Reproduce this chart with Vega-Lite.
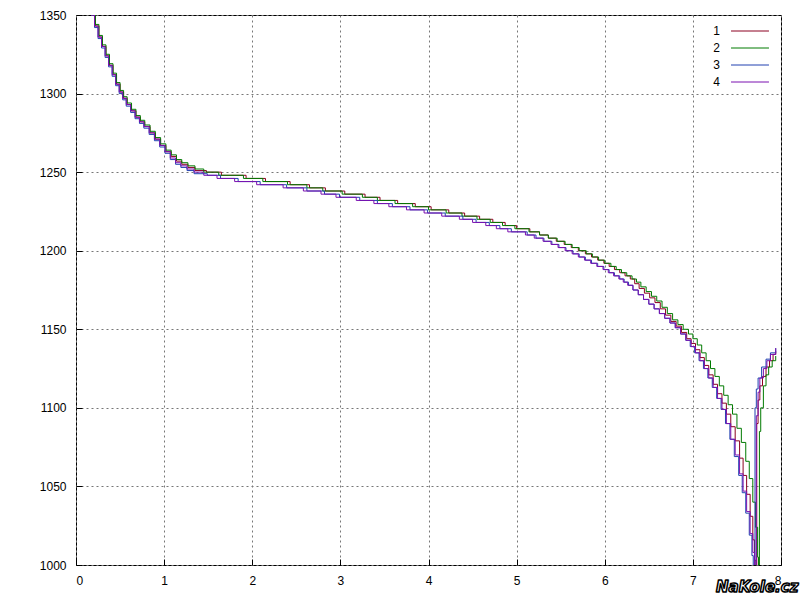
{
"$schema":"https://vega.github.io/schema/vega-lite/v6.json",
"width":705,"height":550,
"autosize":{"type":"none"},
"padding":{"left":76,"top":15,"right":19,"bottom":35},
"background":"white",
"config":{
"view":{"stroke":"black","strokeWidth":1},
"axis":{"grid":true,"gridColor":"#777777","gridDash":[2,3],"gridWidth":1,"domain":false,"tickColor":"black","tickSize":-6,"labelFont":"Liberation Sans","labelFontSize":12,"labelColor":"black","title":null}
},
"datasets":{"d":[
{"s":"1","x":0,"y":1384},{"s":"1","x":0.1,"y":1364},{"s":"1","x":0.18,"y":1350},{"s":"1","x":0.22,"y":1343},{"s":"1","x":0.26,"y":1336},{"s":"1","x":0.3,"y":1330},{"s":"1","x":0.34,"y":1324},{"s":"1","x":0.38,"y":1318},{"s":"1","x":0.42,"y":1312},{"s":"1","x":0.46,"y":1306},{"s":"1","x":0.5,"y":1301},{"s":"1","x":0.54,"y":1297},{"s":"1","x":0.58,"y":1293},{"s":"1","x":0.63,"y":1289},{"s":"1","x":0.68,"y":1285},{"s":"1","x":0.73,"y":1282},{"s":"1","x":0.78,"y":1279},{"s":"1","x":0.84,"y":1275},{"s":"1","x":0.9,"y":1271},{"s":"1","x":0.96,"y":1267},{"s":"1","x":1.02,"y":1263},{"s":"1","x":1.08,"y":1260},{"s":"1","x":1.14,"y":1257},{"s":"1","x":1.2,"y":1255},{"s":"1","x":1.27,"y":1253},{"s":"1","x":1.35,"y":1251},{"s":"1","x":1.48,"y":1250},{"s":"1","x":1.65,"y":1248},{"s":"1","x":1.93,"y":1246},{"s":"1","x":2.15,"y":1244},{"s":"1","x":2.43,"y":1242},{"s":"1","x":2.65,"y":1240},{"s":"1","x":2.83,"y":1238},{"s":"1","x":3.05,"y":1236},{"s":"1","x":3.28,"y":1234},{"s":"1","x":3.45,"y":1232},{"s":"1","x":3.65,"y":1230},{"s":"1","x":3.85,"y":1228},{"s":"1","x":4.03,"y":1226},{"s":"1","x":4.23,"y":1224},{"s":"1","x":4.41,"y":1222},{"s":"1","x":4.58,"y":1220},{"s":"1","x":4.73,"y":1218},{"s":"1","x":4.87,"y":1216},{"s":"1","x":5.0,"y":1214},{"s":"1","x":5.15,"y":1212},{"s":"1","x":5.26,"y":1210},{"s":"1","x":5.36,"y":1208},{"s":"1","x":5.45,"y":1206},{"s":"1","x":5.54,"y":1204},{"s":"1","x":5.62,"y":1202},{"s":"1","x":5.7,"y":1200},{"s":"1","x":5.78,"y":1198},{"s":"1","x":5.85,"y":1196},{"s":"1","x":5.92,"y":1194},{"s":"1","x":5.99,"y":1192},{"s":"1","x":6.05,"y":1190},{"s":"1","x":6.11,"y":1188},{"s":"1","x":6.17,"y":1186},{"s":"1","x":6.23,"y":1184},{"s":"1","x":6.29,"y":1182},{"s":"1","x":6.34,"y":1179},{"s":"1","x":6.39,"y":1176},{"s":"1","x":6.45,"y":1173},{"s":"1","x":6.51,"y":1170},{"s":"1","x":6.57,"y":1167},{"s":"1","x":6.63,"y":1163},{"s":"1","x":6.69,"y":1159},{"s":"1","x":6.75,"y":1155},{"s":"1","x":6.81,"y":1152},{"s":"1","x":6.87,"y":1148},{"s":"1","x":6.93,"y":1144},{"s":"1","x":6.98,"y":1141},{"s":"1","x":7.03,"y":1137},{"s":"1","x":7.08,"y":1132},{"s":"1","x":7.13,"y":1127},{"s":"1","x":7.18,"y":1121},{"s":"1","x":7.23,"y":1115},{"s":"1","x":7.28,"y":1109},{"s":"1","x":7.33,"y":1103},{"s":"1","x":7.38,"y":1096},{"s":"1","x":7.43,"y":1088},{"s":"1","x":7.48,"y":1079},{"s":"1","x":7.53,"y":1068},{"s":"1","x":7.57,"y":1057},{"s":"1","x":7.61,"y":1045},{"s":"1","x":7.65,"y":1031},{"s":"1","x":7.68,"y":1016},{"s":"1","x":7.7,"y":1003},{"s":"1","x":7.715,"y":955},{"s":"1","x":7.725,"y":1090},{"s":"1","x":7.74,"y":1105},{"s":"1","x":7.76,"y":1114},{"s":"1","x":7.79,"y":1120},{"s":"1","x":7.83,"y":1126},{"s":"1","x":7.87,"y":1130},{"s":"1","x":7.91,"y":1134},{"s":"1","x":7.94,"y":1136},
{"s":"2","x":0,"y":1385},{"s":"2","x":0.1,"y":1365},{"s":"2","x":0.18,"y":1351},{"s":"2","x":0.22,"y":1344},{"s":"2","x":0.26,"y":1337},{"s":"2","x":0.3,"y":1331},{"s":"2","x":0.34,"y":1325},{"s":"2","x":0.38,"y":1319},{"s":"2","x":0.42,"y":1313},{"s":"2","x":0.46,"y":1307},{"s":"2","x":0.5,"y":1302},{"s":"2","x":0.54,"y":1298},{"s":"2","x":0.58,"y":1294},{"s":"2","x":0.63,"y":1290},{"s":"2","x":0.68,"y":1286},{"s":"2","x":0.73,"y":1283},{"s":"2","x":0.78,"y":1280},{"s":"2","x":0.84,"y":1276},{"s":"2","x":0.9,"y":1272},{"s":"2","x":0.96,"y":1268},{"s":"2","x":1.02,"y":1264},{"s":"2","x":1.08,"y":1261},{"s":"2","x":1.14,"y":1258},{"s":"2","x":1.2,"y":1256},{"s":"2","x":1.27,"y":1254},{"s":"2","x":1.35,"y":1252},{"s":"2","x":1.45,"y":1250},{"s":"2","x":1.62,"y":1248},{"s":"2","x":1.9,"y":1246},{"s":"2","x":2.12,"y":1244},{"s":"2","x":2.4,"y":1242},{"s":"2","x":2.62,"y":1240},{"s":"2","x":2.8,"y":1238},{"s":"2","x":3.02,"y":1236},{"s":"2","x":3.25,"y":1234},{"s":"2","x":3.42,"y":1232},{"s":"2","x":3.62,"y":1230},{"s":"2","x":3.82,"y":1228},{"s":"2","x":4.0,"y":1226},{"s":"2","x":4.2,"y":1224},{"s":"2","x":4.38,"y":1222},{"s":"2","x":4.55,"y":1220},{"s":"2","x":4.7,"y":1218},{"s":"2","x":4.84,"y":1216},{"s":"2","x":4.98,"y":1214},{"s":"2","x":5.14,"y":1212},{"s":"2","x":5.26,"y":1210},{"s":"2","x":5.36,"y":1208},{"s":"2","x":5.46,"y":1206},{"s":"2","x":5.55,"y":1204},{"s":"2","x":5.63,"y":1202},{"s":"2","x":5.71,"y":1200},{"s":"2","x":5.79,"y":1198},{"s":"2","x":5.86,"y":1196},{"s":"2","x":5.93,"y":1194},{"s":"2","x":6.0,"y":1192},{"s":"2","x":6.07,"y":1190},{"s":"2","x":6.13,"y":1188},{"s":"2","x":6.19,"y":1186},{"s":"2","x":6.25,"y":1184},{"s":"2","x":6.31,"y":1182},{"s":"2","x":6.36,"y":1180},{"s":"2","x":6.41,"y":1177},{"s":"2","x":6.47,"y":1174},{"s":"2","x":6.53,"y":1171},{"s":"2","x":6.59,"y":1168},{"s":"2","x":6.65,"y":1164},{"s":"2","x":6.71,"y":1160},{"s":"2","x":6.77,"y":1156},{"s":"2","x":6.83,"y":1153},{"s":"2","x":6.89,"y":1150},{"s":"2","x":6.95,"y":1147},{"s":"2","x":7.0,"y":1144},{"s":"2","x":7.05,"y":1140},{"s":"2","x":7.1,"y":1135},{"s":"2","x":7.15,"y":1130},{"s":"2","x":7.2,"y":1125},{"s":"2","x":7.25,"y":1120},{"s":"2","x":7.3,"y":1114},{"s":"2","x":7.35,"y":1108},{"s":"2","x":7.4,"y":1102},{"s":"2","x":7.45,"y":1096},{"s":"2","x":7.5,"y":1087},{"s":"2","x":7.55,"y":1078},{"s":"2","x":7.6,"y":1066},{"s":"2","x":7.64,"y":1055},{"s":"2","x":7.68,"y":1040},{"s":"2","x":7.71,"y":1024},{"s":"2","x":7.735,"y":1005},{"s":"2","x":7.745,"y":960},{"s":"2","x":7.755,"y":1085},{"s":"2","x":7.77,"y":1100},{"s":"2","x":7.8,"y":1114},{"s":"2","x":7.83,"y":1121},{"s":"2","x":7.86,"y":1126},{"s":"2","x":7.9,"y":1130},{"s":"2","x":7.94,"y":1133},
{"s":"3","x":0,"y":1382},{"s":"3","x":0.1,"y":1362},{"s":"3","x":0.17,"y":1350},{"s":"3","x":0.21,"y":1342},{"s":"3","x":0.25,"y":1335},{"s":"3","x":0.29,"y":1329},{"s":"3","x":0.33,"y":1323},{"s":"3","x":0.37,"y":1317},{"s":"3","x":0.41,"y":1311},{"s":"3","x":0.45,"y":1305},{"s":"3","x":0.49,"y":1300},{"s":"3","x":0.53,"y":1296},{"s":"3","x":0.57,"y":1292},{"s":"3","x":0.62,"y":1288},{"s":"3","x":0.67,"y":1284},{"s":"3","x":0.72,"y":1281},{"s":"3","x":0.77,"y":1278},{"s":"3","x":0.83,"y":1274},{"s":"3","x":0.89,"y":1270},{"s":"3","x":0.95,"y":1266},{"s":"3","x":1.01,"y":1262},{"s":"3","x":1.07,"y":1258},{"s":"3","x":1.13,"y":1255},{"s":"3","x":1.19,"y":1253},{"s":"3","x":1.26,"y":1251},{"s":"3","x":1.34,"y":1249},{"s":"3","x":1.49,"y":1248},{"s":"3","x":1.64,"y":1246},{"s":"3","x":1.84,"y":1244},{"s":"3","x":2.09,"y":1242},{"s":"3","x":2.39,"y":1240},{"s":"3","x":2.62,"y":1238},{"s":"3","x":2.82,"y":1236},{"s":"3","x":2.99,"y":1234},{"s":"3","x":3.22,"y":1232},{"s":"3","x":3.42,"y":1230},{"s":"3","x":3.59,"y":1228},{"s":"3","x":3.79,"y":1226},{"s":"3","x":3.99,"y":1224},{"s":"3","x":4.19,"y":1222},{"s":"3","x":4.39,"y":1220},{"s":"3","x":4.54,"y":1218},{"s":"3","x":4.69,"y":1216},{"s":"3","x":4.81,"y":1214},{"s":"3","x":4.94,"y":1212},{"s":"3","x":5.12,"y":1210},{"s":"3","x":5.22,"y":1208},{"s":"3","x":5.31,"y":1206},{"s":"3","x":5.4,"y":1204},{"s":"3","x":5.48,"y":1202},{"s":"3","x":5.56,"y":1200},{"s":"3","x":5.64,"y":1198},{"s":"3","x":5.71,"y":1196},{"s":"3","x":5.78,"y":1194},{"s":"3","x":5.85,"y":1192},{"s":"3","x":5.92,"y":1190},{"s":"3","x":5.99,"y":1188},{"s":"3","x":6.05,"y":1186},{"s":"3","x":6.11,"y":1184},{"s":"3","x":6.17,"y":1182},{"s":"3","x":6.22,"y":1180},{"s":"3","x":6.27,"y":1178},{"s":"3","x":6.32,"y":1175},{"s":"3","x":6.38,"y":1172},{"s":"3","x":6.44,"y":1169},{"s":"3","x":6.5,"y":1166},{"s":"3","x":6.56,"y":1163},{"s":"3","x":6.62,"y":1160},{"s":"3","x":6.68,"y":1157},{"s":"3","x":6.74,"y":1154},{"s":"3","x":6.8,"y":1151},{"s":"3","x":6.86,"y":1147},{"s":"3","x":6.92,"y":1143},{"s":"3","x":6.97,"y":1139},{"s":"3","x":7.02,"y":1135},{"s":"3","x":7.07,"y":1130},{"s":"3","x":7.12,"y":1125},{"s":"3","x":7.17,"y":1119},{"s":"3","x":7.22,"y":1113},{"s":"3","x":7.27,"y":1106},{"s":"3","x":7.32,"y":1099},{"s":"3","x":7.37,"y":1090},{"s":"3","x":7.42,"y":1080},{"s":"3","x":7.47,"y":1069},{"s":"3","x":7.52,"y":1057},{"s":"3","x":7.56,"y":1046},{"s":"3","x":7.6,"y":1033},{"s":"3","x":7.64,"y":1019},{"s":"3","x":7.67,"y":1006},{"s":"3","x":7.685,"y":985},{"s":"3","x":7.695,"y":945},{"s":"3","x":7.705,"y":1100},{"s":"3","x":7.72,"y":1112},{"s":"3","x":7.74,"y":1119},{"s":"3","x":7.78,"y":1126},{"s":"3","x":7.83,"y":1131},{"s":"3","x":7.88,"y":1135},{"s":"3","x":7.94,"y":1138},
{"s":"4","x":0,"y":1382},{"s":"4","x":0.1,"y":1362},{"s":"4","x":0.17,"y":1350},{"s":"4","x":0.21,"y":1343},{"s":"4","x":0.25,"y":1336},{"s":"4","x":0.29,"y":1330},{"s":"4","x":0.33,"y":1324},{"s":"4","x":0.37,"y":1318},{"s":"4","x":0.41,"y":1312},{"s":"4","x":0.45,"y":1306},{"s":"4","x":0.49,"y":1301},{"s":"4","x":0.53,"y":1297},{"s":"4","x":0.57,"y":1293},{"s":"4","x":0.62,"y":1289},{"s":"4","x":0.67,"y":1285},{"s":"4","x":0.72,"y":1282},{"s":"4","x":0.77,"y":1279},{"s":"4","x":0.83,"y":1275},{"s":"4","x":0.89,"y":1271},{"s":"4","x":0.95,"y":1267},{"s":"4","x":1.01,"y":1263},{"s":"4","x":1.07,"y":1259},{"s":"4","x":1.13,"y":1256},{"s":"4","x":1.19,"y":1254},{"s":"4","x":1.26,"y":1252},{"s":"4","x":1.34,"y":1250},{"s":"4","x":1.45,"y":1248},{"s":"4","x":1.6,"y":1246},{"s":"4","x":1.8,"y":1244},{"s":"4","x":2.05,"y":1242},{"s":"4","x":2.35,"y":1240},{"s":"4","x":2.58,"y":1238},{"s":"4","x":2.78,"y":1236},{"s":"4","x":2.95,"y":1234},{"s":"4","x":3.18,"y":1232},{"s":"4","x":3.38,"y":1230},{"s":"4","x":3.55,"y":1228},{"s":"4","x":3.75,"y":1226},{"s":"4","x":3.95,"y":1224},{"s":"4","x":4.15,"y":1222},{"s":"4","x":4.35,"y":1220},{"s":"4","x":4.5,"y":1218},{"s":"4","x":4.65,"y":1216},{"s":"4","x":4.77,"y":1214},{"s":"4","x":4.9,"y":1212},{"s":"4","x":5.1,"y":1210},{"s":"4","x":5.2,"y":1208},{"s":"4","x":5.3,"y":1206},{"s":"4","x":5.39,"y":1204},{"s":"4","x":5.47,"y":1202},{"s":"4","x":5.55,"y":1200},{"s":"4","x":5.63,"y":1198},{"s":"4","x":5.7,"y":1196},{"s":"4","x":5.77,"y":1194},{"s":"4","x":5.84,"y":1192},{"s":"4","x":5.91,"y":1190},{"s":"4","x":5.98,"y":1188},{"s":"4","x":6.04,"y":1186},{"s":"4","x":6.1,"y":1184},{"s":"4","x":6.16,"y":1182},{"s":"4","x":6.21,"y":1180},{"s":"4","x":6.26,"y":1178},{"s":"4","x":6.32,"y":1175},{"s":"4","x":6.38,"y":1172},{"s":"4","x":6.44,"y":1169},{"s":"4","x":6.5,"y":1166},{"s":"4","x":6.56,"y":1163},{"s":"4","x":6.62,"y":1160},{"s":"4","x":6.68,"y":1157},{"s":"4","x":6.74,"y":1154},{"s":"4","x":6.8,"y":1151},{"s":"4","x":6.86,"y":1147},{"s":"4","x":6.92,"y":1143},{"s":"4","x":6.98,"y":1139},{"s":"4","x":7.03,"y":1135},{"s":"4","x":7.08,"y":1130},{"s":"4","x":7.13,"y":1125},{"s":"4","x":7.18,"y":1119},{"s":"4","x":7.23,"y":1113},{"s":"4","x":7.28,"y":1106},{"s":"4","x":7.33,"y":1099},{"s":"4","x":7.38,"y":1090},{"s":"4","x":7.43,"y":1080},{"s":"4","x":7.48,"y":1070},{"s":"4","x":7.53,"y":1058},{"s":"4","x":7.57,"y":1047},{"s":"4","x":7.61,"y":1034},{"s":"4","x":7.65,"y":1020},{"s":"4","x":7.68,"y":1008},{"s":"4","x":7.7,"y":990},{"s":"4","x":7.71,"y":950},{"s":"4","x":7.72,"y":1095},{"s":"4","x":7.74,"y":1110},{"s":"4","x":7.76,"y":1119},{"s":"4","x":7.8,"y":1125},{"s":"4","x":7.84,"y":1130},{"s":"4","x":7.88,"y":1134},{"s":"4","x":7.94,"y":1138}
]},
"layer":[
{"data":{"name":"d"},
"mark":{"type":"line","interpolate":"step-after","strokeWidth":1,"clip":true},
"encoding":{
"x":{"field":"x","type":"quantitative","scale":{"domain":[0,8],"nice":false,"zero":false},"axis":{"values":[0,1,2,3,4,5,6,7,8],"format":"d","labelPadding":16}},
"y":{"field":"y","type":"quantitative","scale":{"domain":[1000,1350],"nice":false,"zero":false},"axis":{"values":[1000,1050,1100,1150,1200,1250,1300,1350],"format":"d","labelPadding":16}},
"color":{"field":"s","type":"nominal","scale":{"domain":["1","2","3","4"],"range":["#8b0020","#007a00","#2040b0","#7a10b0"]},
"legend":{"title":null,"orient":"top-right","offset":10,"symbolType":"M-4,0H4","symbolSize":90,"symbolStrokeWidth":1,"labelOffset":-36,"labelAlign":"right","labelFont":"Liberation Sans","labelFontSize":12,"labelColor":"black","rowPadding":5,"padding":0}}
}},
{"data":{"values":[{}]},
"mark":{"type":"text","text":"NaKole.cz","font":"DejaVu Sans","fontSize":15,"fontWeight":"bold","fontStyle":"italic","fill":"white","stroke":"black","strokeWidth":1.5,"strokeJoin":"round","align":"center","baseline":"middle"},
"encoding":{"x":{"datum":7.73},"y":{"datum":986}}}
]
}
